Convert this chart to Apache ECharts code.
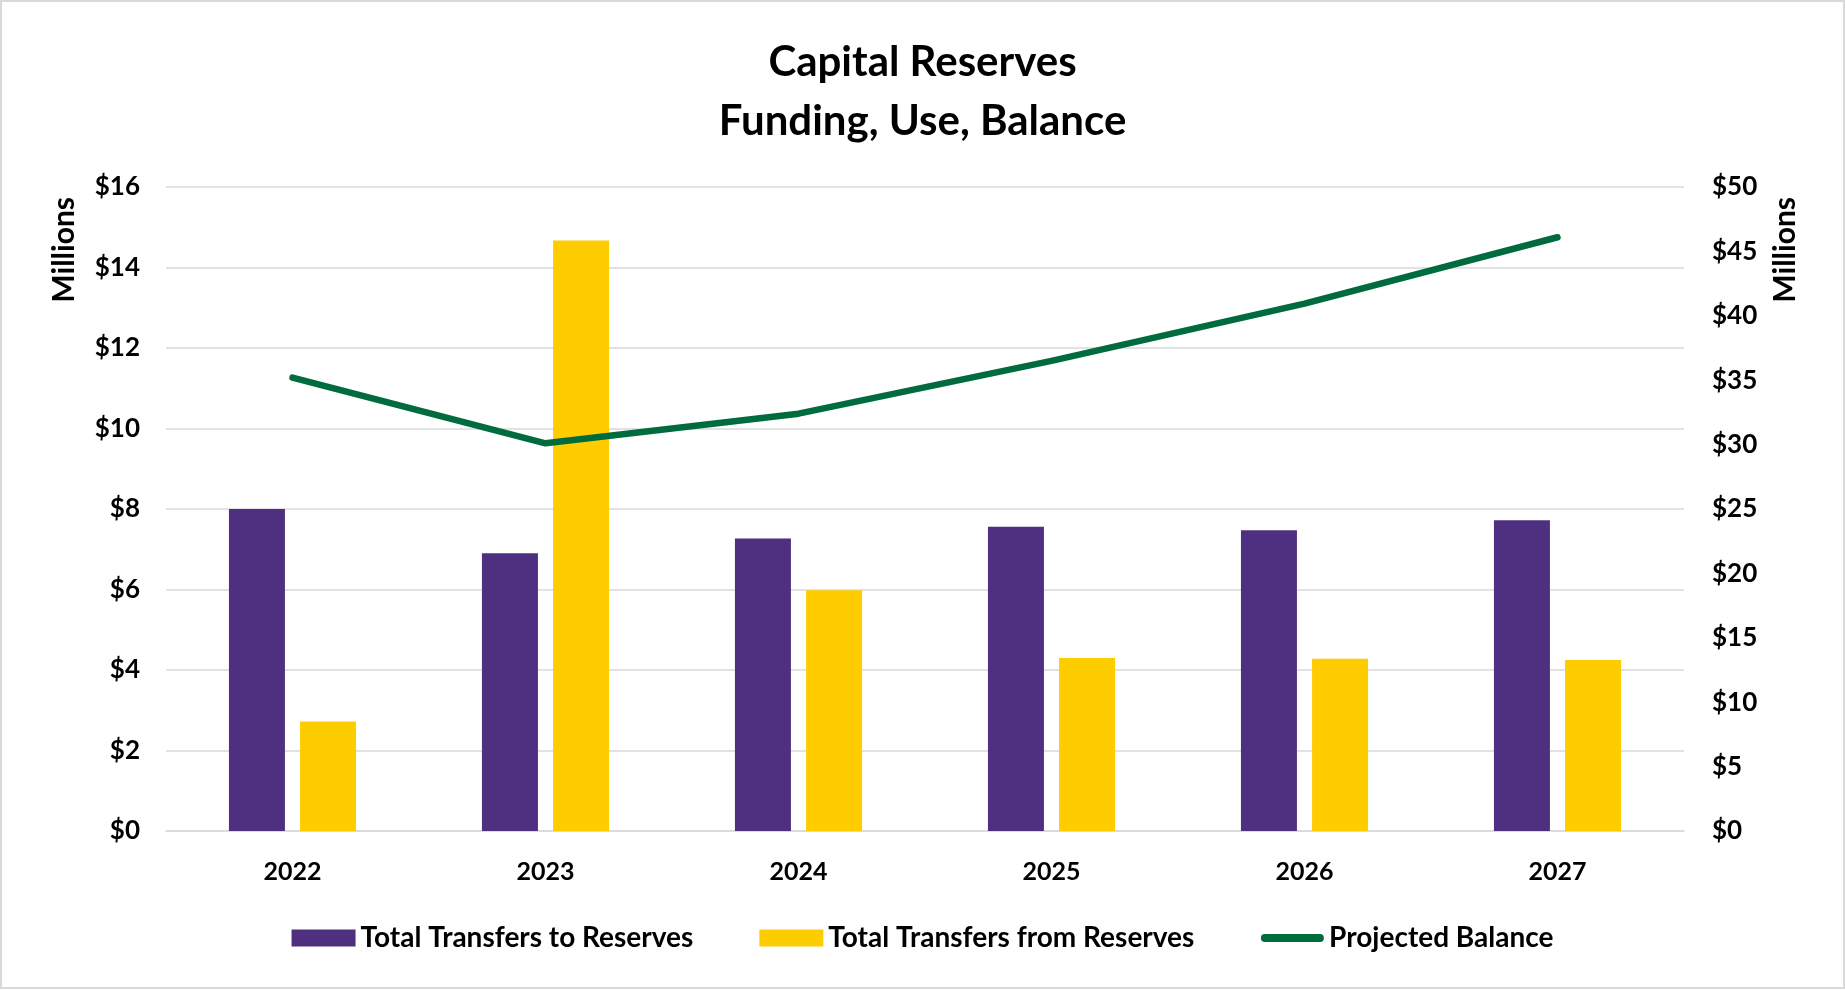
<!DOCTYPE html>
<html>
<head>
<meta charset="utf-8">
<script src="https://cdn.jsdelivr.net/npm/echarts@6/dist/echarts.min.js"></script>
<style>
html,body{margin:0;padding:0;background:#fff;}
#chart{width:1845px;height:990px;}
</style>
</head>
<body>
<div id="chart"></div>
<script>
const years = ['2022','2023','2024','2025','2026','2027'];
const transfersTo = [8.0, 6.9, 7.27, 7.56, 7.47, 7.72];
const transfersFrom = [2.72, 14.67, 5.98, 4.30, 4.28, 4.25];
const projectedBalance = [35.2, 30.1, 32.4, 36.5, 40.95, 46.1];
const leftTicks = {min: 0, max: 16, interval: 2};
const rightTicks = {min: 0, max: 50, interval: 5};

const FONT = 'Lato';
const lineIcon = 'path://M0,0 L0,0 M0,17 L0,17 M4.5,4.5 L59.5,4.5 A4,4 0 0 1 59.5,12.5 L4.5,12.5 A4,4 0 0 1 4.5,4.5 Z';
const chart = echarts.init(document.getElementById('chart'), null, {renderer: 'canvas'});
chart.setOption({
  backgroundColor: '#ffffff',
  animation: false,
  title: {
    text: 'Capital Reserves\nFunding, Use, Balance',
    left: 'center',
    top: 28,
    textStyle: {fontFamily: FONT, fontWeight: 'bold', fontSize: 42, color: '#000', lineHeight: 59}
  },
  graphic: [
    {type: 'rect', shape: {x: 1, y: 1, width: 1843, height: 987}, style: {fill: 'none', stroke: '#d9d9d9', lineWidth: 2}, silent: true},
    {type: 'text', left: 49, top: 197, rotation: Math.PI / 2, style: {text: 'Millions', fontFamily: FONT, fontWeight: 'bold', fontSize: 30, fill: '#000'}},
    {type: 'text', left: 1770, top: 197, rotation: Math.PI / 2, style: {text: 'Millions', fontFamily: FONT, fontWeight: 'bold', fontSize: 30, fill: '#000'}}
  ],
  legend: {
    bottom: 33,
    left: 'center',
    itemWidth: 64,
    itemHeight: 17,
    itemGap: 66,
    textStyle: {fontFamily: FONT, fontWeight: 'bold', fontSize: 28, color: '#000'},
    data: [
      {name: 'Total Transfers to Reserves', icon: 'rect'},
      {name: 'Total Transfers from Reserves', icon: 'rect'},
      {name: 'Projected Balance', icon: lineIcon, itemStyle: {color: '#006B3C'}}
    ]
  },
  grid: {left: 166, right: 161, top: 187, bottom: 159, containLabel: false},
  xAxis: {
    type: 'category',
    data: years,
    axisLine: {show: true, lineStyle: {color: '#d9d9d9', width: 1.5}},
    axisTick: {show: false},
    axisLabel: {fontFamily: FONT, fontWeight: 'bold', fontSize: 25, color: '#000', margin: 28}
  },
  yAxis: [
    {
      type: 'value', min: leftTicks.min, max: leftTicks.max, interval: leftTicks.interval,
      axisLine: {show: false}, axisTick: {show: false},
      splitLine: {lineStyle: {color: '#d9d9d9', width: 1.5}},
      axisLabel: {fontFamily: FONT, fontWeight: 'bold', fontSize: 26, color: '#000', margin: 26, formatter: v => '$' + v}
    },
    {
      type: 'value', min: rightTicks.min, max: rightTicks.max, interval: rightTicks.interval,
      axisLine: {show: false}, axisTick: {show: false},
      splitLine: {show: false},
      axisLabel: {fontFamily: FONT, fontWeight: 'bold', fontSize: 26, color: '#000', margin: 28, formatter: v => '$' + v}
    }
  ],
  series: [
    {name: 'Total Transfers to Reserves', type: 'bar', data: transfersTo, barWidth: 56, barGap: '27%',
      itemStyle: {color: '#4F2F7F'}},
    {name: 'Total Transfers from Reserves', type: 'bar', data: transfersFrom, barWidth: 56,
      itemStyle: {color: '#FFCC00'}},
    {name: 'Projected Balance', type: 'line', yAxisIndex: 1, data: projectedBalance,
      showSymbol: false, symbol: 'none',
      lineStyle: {color: '#006B3C', width: 6.5, cap: 'round', join: 'round'},
      itemStyle: {color: '#006B3C'}, z: 5}
  ]
});
</script>
</body>
</html>
